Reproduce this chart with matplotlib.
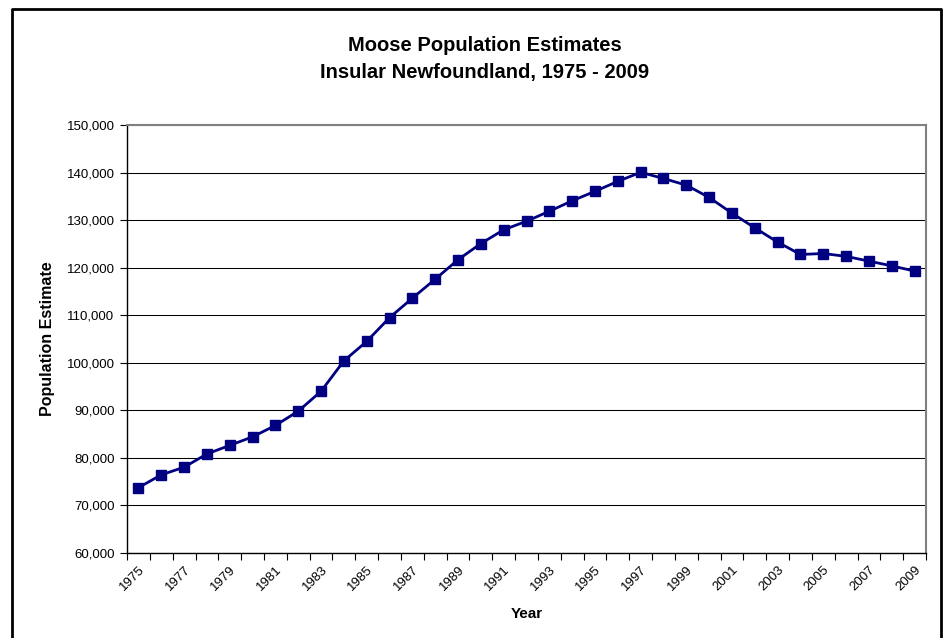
import numpy as np
import matplotlib
matplotlib.use("Agg")
import matplotlib.pyplot as plt
from matplotlib.lines import Line2D
from matplotlib.ticker import FuncFormatter

plt.rcParams['font.family'] = ['Liberation Sans', 'DejaVu Sans']

# Estimated moose population, insular Newfoundland
years = list(range(1975, 2010))
population = [73700, 76400, 78000, 80800, 82600, 84400, 86800, 89800, 94000, 100400,
              104500, 109500, 113600, 117600, 121700, 125100, 128000, 129800, 131900, 134100,
              136100, 138200, 140100, 138800, 137400, 134800, 131500, 128400, 125400, 122800,
              123000, 122400, 121400, 120400, 119300]
y_ticks = list(range(60000, 150001, 10000))

fig = plt.figure(figsize=(9.43, 6.38), dpi=100)
ax = fig.add_axes([0.1347, 0.1337, 0.8473, 0.6699])

x = np.arange(len(years))
ax.plot(x, population, color='#000080', linewidth=2.0, marker='s',
        markersize=7, markerfacecolor='#000080', markeredgecolor='#000080', zorder=3)

# value axis
ax.set_ylim(y_ticks[0], y_ticks[-1])
ax.set_yticks(y_ticks)
ax.yaxis.set_major_formatter(FuncFormatter(lambda v, p: f"{int(v):,}"))
ax.yaxis.grid(True, color='black', linewidth=0.75)
ax.set_axisbelow(True)

# category axis: tick marks between categories, labels every other year
ax.set_xlim(-0.5, len(years) - 0.5)
ax.set_xticks(np.arange(-0.5, len(years), 1.0))
ax.set_xticklabels([])
label_idx = x[::2]
ax.set_xticks(label_idx, minor=True)
ax.set_xticklabels([str(years[i]) for i in label_idx], minor=True, rotation=45,
                   ha='right', va='top', rotation_mode='anchor', fontsize=9.5)
ax.tick_params(axis='x', which='major', direction='out', length=5, width=0.8, color='black')
ax.tick_params(axis='x', which='minor', length=0, pad=8)
ax.tick_params(axis='y', direction='out', length=5, width=0.8, color='black',
               labelsize=9.5, pad=4)

for side in ['left', 'bottom']:
    ax.spines[side].set_color('black')
    ax.spines[side].set_linewidth(1.0)
for side in ['top', 'right']:
    ax.spines[side].set_color('#808080')
    ax.spines[side].set_linewidth(1.5)

ax.set_xlabel('Year', fontsize=11, fontweight='bold', labelpad=10)
ax.set_ylabel('Population Estimate', fontsize=11.5, fontweight='bold', labelpad=8)

fig.text(0.514, 0.928, 'Moose Population Estimates', ha='center', va='center',
         fontsize=14.5, fontweight='bold')
fig.text(0.514, 0.886, 'Insular Newfoundland, 1975 - 2009', ha='center', va='center',
         fontsize=14.5, fontweight='bold')

# chart border
W, H = 943, 638
bx = [12 / W, 12 / W, 941 / W, 941 / W]
by = [-0.01, 1 - 9 / H, 1 - 9 / H, -0.01]
fig.add_artist(Line2D(bx, by, transform=fig.transFigure, color='black', linewidth=2.0))

fig.savefig('out.png', dpi=100)
